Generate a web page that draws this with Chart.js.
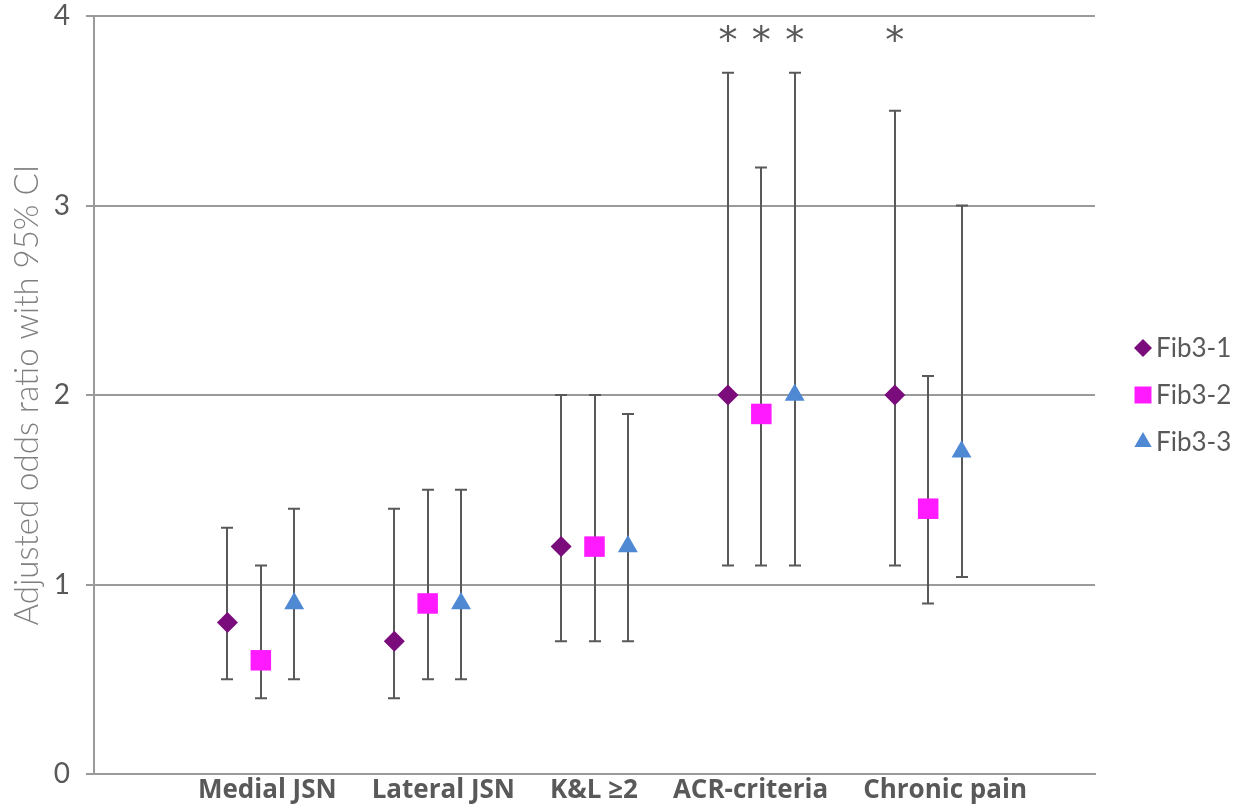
<!DOCTYPE html>
<html>
<head>
<meta charset="utf-8">
<script src="https://cdn.jsdelivr.net/npm/chart.js@4"></script>
<style>
html,body{margin:0;padding:0;background:#fff;}
#wrap{width:1237px;height:807px;}
</style>
</head>
<body>
<div id="wrap"><canvas id="c" width="1237" height="807"></canvas></div>
<script>
// ---- data ----
const categories = ['Medial JSN', 'Lateral JSN', 'K&L \u22652', 'ACR-criteria', 'Chronic pain'];
const seriesNames = ['Fib3-1', 'Fib3-2', 'Fib3-3'];
const fib1 = [0.8, 0.7, 1.2, 2.0, 2.0];
const fib1Low = [0.5, 0.4, 0.7, 1.1, 1.1];
const fib1High = [1.3, 1.4, 2.0, 3.7, 3.5];
const fib2 = [0.6, 0.9, 1.2, 1.9, 1.4];
const fib2Low = [0.4, 0.5, 0.7, 1.1, 0.9];
const fib2High = [1.1, 1.5, 2.0, 3.2, 2.1];
const fib3 = [0.9, 0.9, 1.2, 2.0, 1.7];
const fib3Low = [0.5, 0.5, 0.7, 1.1, 1.04];
const fib3High = [1.4, 1.5, 1.9, 3.7, 3.0];
const fib1Sig = [false, false, false, true, true];
const fib2Sig = [false, false, false, true, false];
const fib3Sig = [false, false, false, true, false];
const yTicks = [0, 1, 2, 3, 4];

const values = [fib1, fib2, fib3];
const lows = [fib1Low, fib2Low, fib3Low];
const highs = [fib1High, fib2High, fib3High];
const sigs = [fib1Sig, fib2Sig, fib3Sig];
const colors = ['#7B0C7B', '#FF1AFF', '#4F88D3'];
const styles = ['rectRot', 'rect', 'triangle'];
const radii = [10.5, 14.5, 11.5];
const legendRadii = [9, 12, 10];
const offsets = [-0.2, 0, 0.2];

const datasets = seriesNames.map((name, s) => ({
  label: name,
  data: values[s].map((v, i) => ({x: i + 1 + offsets[s], y: v, lo: lows[s][i], hi: highs[s][i], sig: sigs[s][i]})),
  backgroundColor: colors[s],
  borderColor: colors[s],
  borderWidth: 0,
  pointStyle: styles[s],
  pointRadius: radii[s],
  pointHoverRadius: radii[s],
  showLine: false
}));

const GREY = '#595959';
const LABEL_FONT = 'bold 26px "Open Sans"';

const errorBars = {
  id: 'errorBars',
  beforeDatasetsDraw(chart) {
    const ctx = chart.ctx, xs = chart.scales.x, ys = chart.scales.y;
    ctx.save();
    ctx.strokeStyle = GREY;
    ctx.lineWidth = 2;
    chart.data.datasets.forEach(ds => {
      ds.data.forEach(p => {
        const x = Math.round(xs.getPixelForValue(p.x));
        const y1 = ys.getPixelForValue(p.lo), y2 = ys.getPixelForValue(p.hi);
        ctx.beginPath();
        ctx.moveTo(x, y1); ctx.lineTo(x, y2);
        ctx.moveTo(x - 6, y1); ctx.lineTo(x + 6, y1);
        ctx.moveTo(x - 6, y2); ctx.lineTo(x + 6, y2);
        ctx.stroke();
      });
    });
    ctx.restore();
  },
  afterDatasetsDraw(chart) {
    const ctx = chart.ctx, xs = chart.scales.x, ys = chart.scales.y;
    ctx.save();
    ctx.fillStyle = GREY;
    ctx.font = '38px "DejaVu Sans"';
    ctx.textAlign = 'center';
    ctx.textBaseline = 'middle';
    chart.data.datasets.forEach(ds => {
      ds.data.forEach(p => {
        if (p.sig) ctx.fillText('*', xs.getPixelForValue(p.x), ys.getPixelForValue(3.9) + 8);
      });
    });
    // category labels laid out as one spaced line under the axis
    ctx.font = LABEL_FONT;
    ctx.textAlign = 'left';
    const gap = 35;
    const widths = categories.map(c => ctx.measureText(c).width);
    const total = widths.reduce((a, b) => a + b, 0) + gap * (categories.length - 1);
    const mid = (xs.getPixelForValue(1) + xs.getPixelForValue(5)) / 2 + 18;
    let cx = mid - total / 2;
    const ty = xs.top + 17;
    categories.forEach((c, i) => { ctx.fillText(c, cx, ty); cx += widths[i] + gap; });
    // legend
    const lx = 1143, ly0 = 348, dy = 47;
    chart.data.datasets.forEach((ds, s) => {
      const y = ly0 + s * dy;
      ctx.fillStyle = ds.backgroundColor;
      ctx.strokeStyle = ds.backgroundColor;
      ctx.lineWidth = 0;
      Chart.helpers.drawPoint(ctx, {pointStyle: ds.pointStyle, radius: legendRadii[s], borderWidth: 0, rotation: 0}, lx, y);
      ctx.fillStyle = GREY;
      ctx.font = '26px Lato';
      ctx.textAlign = 'left';
      ctx.fillText(ds.label, 1156, y + 1);
    });
    ctx.restore();
  }
};

new Chart(document.getElementById('c'), {
  type: 'scatter',
  data: {datasets},
  options: {
    responsive: false,
    animation: false,
    events: [],
    layout: {padding: {left: 0, right: 142, top: 16, bottom: 0}},
    plugins: {legend: {display: false}, tooltip: {enabled: false}},
    scales: {
      x: {
        type: 'linear', min: 0, max: 6,
        afterBuildTicks(scale) { scale.ticks = categories.map((c, i) => ({value: i + 1})); },
        afterFit(scale) { scale.height = 33; scale.paddingLeft = 0; scale.paddingRight = 0; },
        grid: {display: false, drawTicks: false},
        border: {display: true, color: '#9a9a9a', width: 2},
        ticks: {display: false}
      },
      y: {
        min: 0, max: 4,
        afterBuildTicks(scale) { scale.ticks = yTicks.map(v => ({value: v})); },
        afterFit(scale) { scale.width = 94; scale.paddingTop = 0; scale.paddingBottom = 0; },
        grid: {color: '#9a9a9a', lineWidth: 2, tickLength: 8, drawTicks: true},
        border: {display: true, color: '#9a9a9a', width: 2},
        ticks: {color: GREY, font: {family: 'Lato', size: 28}, padding: 16},
        title: {display: true, text: 'Adjusted odds ratio with 95% CI', color: '#7f7f7f',
                font: {family: 'Lato', size: 33, weight: '300'}, padding: {top: 8, bottom: 0}}
      }
    }
  },
  plugins: [errorBars]
});
</script>
</body>
</html>
